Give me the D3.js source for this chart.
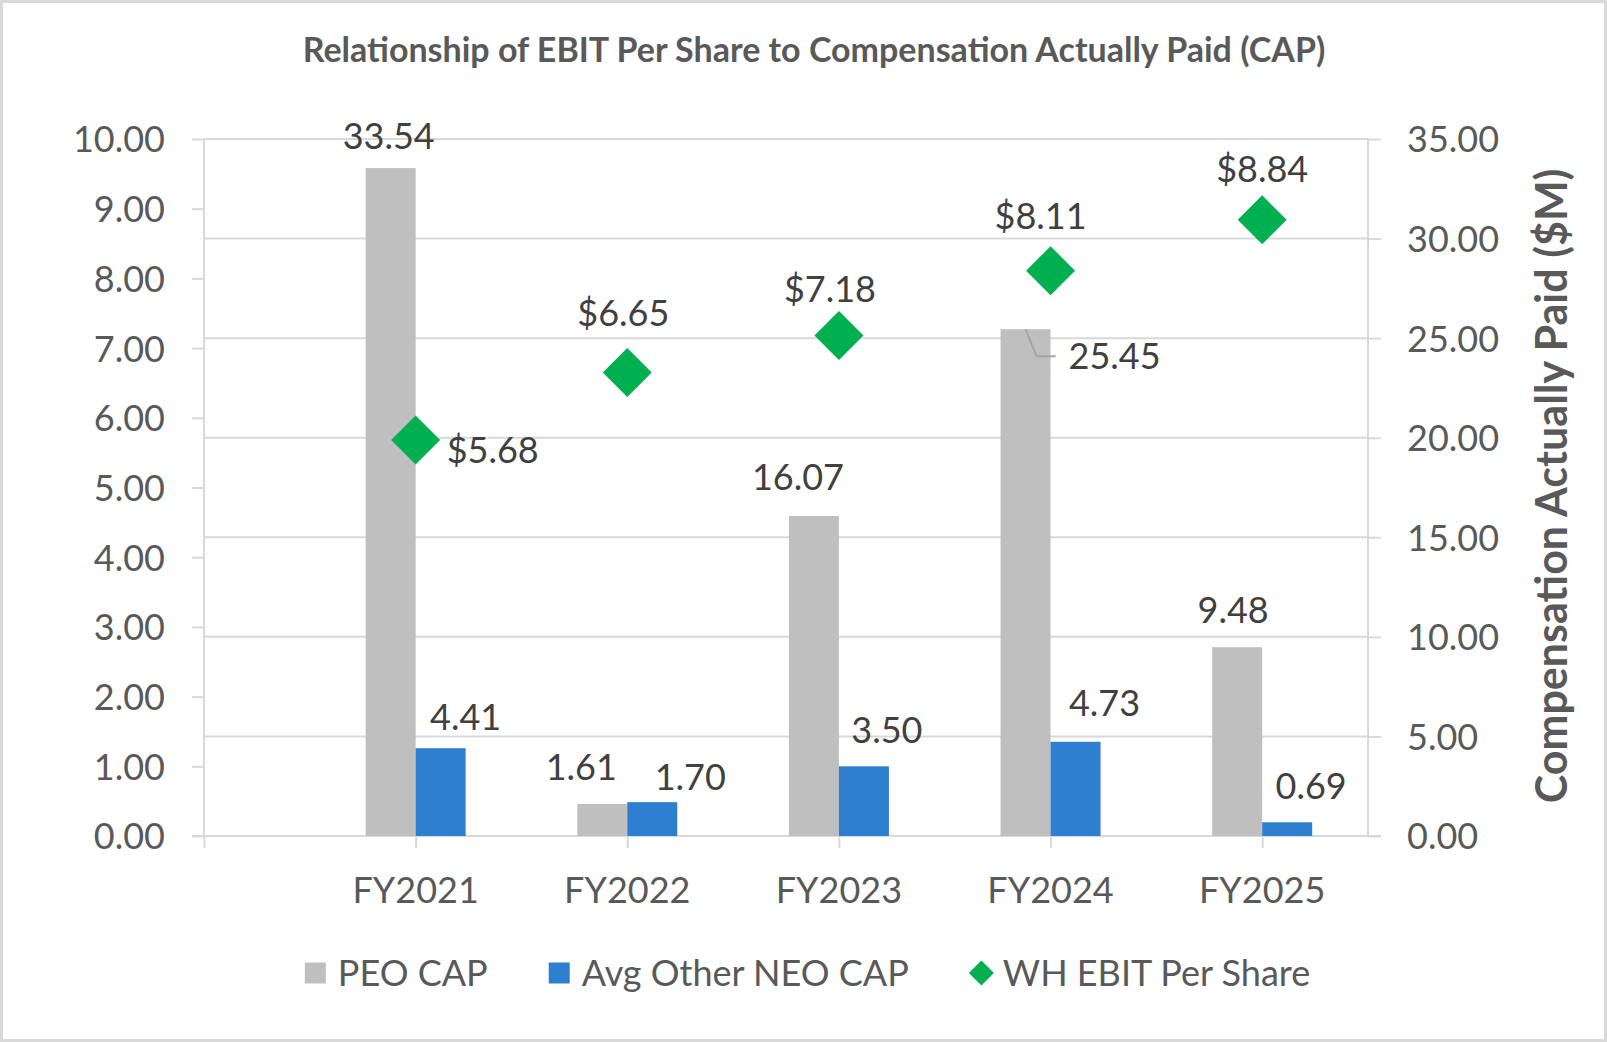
<!DOCTYPE html>
<html>
<head>
<meta charset="utf-8">
<script src="https://cdn.jsdelivr.net/npm/d3@7"></script>
<style>
  html, body { margin: 0; padding: 0; background: #fff; }
  svg { display: block; font-family: Lato, "Open Sans", sans-serif; }
</style>
</head>
<body>
<svg id="chart" width="1607" height="1042"></svg>
<script>
// ---------------- data ----------------
const categories = ["FY2021", "FY2022", "FY2023", "FY2024", "FY2025"];
const peoCap = [33.54, 1.61, 16.07, 25.45, 9.48];      // $M, right axis
const neoCap = [4.41, 1.70, 3.50, 4.73, 0.69];         // $M, right axis
const ebitPerShare = [5.68, 6.65, 7.18, 8.11, 8.84];   // $, left axis
const leftTicks = [0, 1, 2, 3, 4, 5, 6, 7, 8, 9, 10];
const rightTicks = [0, 5, 10, 15, 20, 25, 30, 35];
const seriesNames = ["PEO CAP", "Avg Other NEO CAP", "WH EBIT Per Share"];
const titleText = "Relationship of EBIT Per Share to Compensation Actually Paid (CAP)";
const rightAxisTitle = "Compensation Actually Paid ($M)";

// ---------------- layout / style ----------------
const W = 1607, H = 1042;
const plot = { left: 204, right: 1368, top: 139, bottom: 836 };
const colors = { peo: "#bfbfbf", neo: "#2f7fd1", ebit: "#00b050",
                 grid: "#d9d9d9", tick: "#595959", label: "#404040", leader: "#a6a6a6" };
const barW = 50;
const fontSize = 36;

// label placement offsets (text centre relative to mark anchor)
const peoLabelOff = [[-2, -32], [-21, -37], [-16, -39], [89, 27], [-4, -37]];
const neoLabelOff = [[25, -31], [38, -25], [23, -36], [29, -39], [24, -36]];
const ebitLabelOff = [[77, 10], [-4, -59], [-9, -47], [-10, -55], [0, -51]];

const svg = d3.select("#chart");

// frame
svg.append("rect").attr("x", 1.5).attr("y", 1.5).attr("width", W - 3).attr("height", H - 3)
  .attr("fill", "#fff").attr("stroke", "#d9d9d9").attr("stroke-width", 3);

// scales
const x = d3.scaleLinear().domain([0, categories.length + 0.5]).range([plot.left, plot.right]);
const yL = d3.scaleLinear().domain([0, 10]).range([plot.bottom, plot.top]);
const yR = d3.scaleLinear().domain([0, 35]).range([plot.bottom, plot.top]);
const cx = i => x(i + 1);

// title
svg.append("text").attr("x", 814).attr("y", 62).attr("text-anchor", "middle")
  .attr("font-size", 34).attr("font-weight", 700).attr("fill", "#595959").text(titleText);

// gridlines (right axis)
svg.append("g").selectAll("line").data(rightTicks.slice(1)).join("line")
  .attr("x1", plot.left).attr("x2", plot.right)
  .attr("y1", d => yR(d)).attr("y2", d => yR(d))
  .attr("stroke", colors.grid).attr("stroke-width", 2);

// left axis
const gL = svg.append("g").attr("transform", `translate(${plot.left},0)`)
  .call(d3.axisLeft(yL).tickValues(leftTicks).tickFormat(d3.format(".2f")).tickSize(12).tickPadding(27));
// right axis
const gR = svg.append("g").attr("transform", `translate(${plot.right},0)`)
  .call(d3.axisRight(yR).tickValues(rightTicks).tickFormat(d3.format(".2f")).tickSize(13).tickPadding(26));
[gL, gR].forEach(g => {
  g.select(".domain").attr("stroke", colors.grid).attr("stroke-width", 2)
    .attr("d", `M0,${plot.top}V${plot.bottom}`);
  g.selectAll(".tick line").attr("stroke", colors.grid).attr("stroke-width", 2);
  g.selectAll(".tick text").attr("fill", colors.tick).attr("font-size", fontSize)
    .attr("font-family", "Lato").attr("dy", "0.36em");
});

// bottom axis
const gB = svg.append("g").attr("transform", `translate(0,${plot.bottom})`)
  .call(d3.axisBottom(x).tickValues(d3.range(0, categories.length + 1)).tickSize(12).tickFormat(""));
gB.select(".domain").attr("stroke", colors.grid).attr("stroke-width", 2)
  .attr("d", `M${plot.left - 12},0H${plot.right + 13}`);
gB.selectAll(".tick line").attr("stroke", colors.grid).attr("stroke-width", 2);
svg.append("g").selectAll("text").data(categories).join("text")
  .attr("x", (d, i) => cx(i)).attr("y", 890).attr("dy", "0.36em")
  .attr("text-anchor", "middle").attr("font-size", fontSize).attr("fill", colors.tick).text(d => d);

// bars
svg.append("g").selectAll("rect").data(peoCap).join("rect")
  .attr("x", (d, i) => cx(i) - barW).attr("width", barW)
  .attr("y", d => yR(d)).attr("height", d => yR(0) - yR(d)).attr("fill", colors.peo);
svg.append("g").selectAll("rect").data(neoCap).join("rect")
  .attr("x", (d, i) => cx(i)).attr("width", barW)
  .attr("y", d => yR(d)).attr("height", d => yR(0) - yR(d)).attr("fill", colors.neo);

// diamonds
const diamond = r => `M0,${-r}L${r},0L0,${r}L${-r},0Z`;
svg.append("g").selectAll("path").data(ebitPerShare).join("path")
  .attr("transform", (d, i) => `translate(${cx(i)},${yL(d)})`)
  .attr("d", diamond(24.5)).attr("fill", colors.ebit);

// leader line for FY2024 PEO label
{
  const i = 3, ax = cx(i) - barW / 2, ay = yR(peoCap[i]);
  svg.append("path").attr("d", `M${ax},${ay}L${ax + 11},${ay + 27}H${ax + 30}`)
    .attr("fill", "none").attr("stroke", colors.leader).attr("stroke-width", 2);
}

// data labels
const lbl = svg.append("g").attr("font-size", fontSize).attr("fill", colors.label).attr("text-anchor", "middle");
peoCap.forEach((v, i) => lbl.append("text")
  .attr("x", cx(i) - barW / 2 + peoLabelOff[i][0]).attr("y", yR(v) + peoLabelOff[i][1])
  .attr("dy", "0.36em").text(d3.format(".2f")(v)));
neoCap.forEach((v, i) => lbl.append("text")
  .attr("x", cx(i) + barW / 2 + neoLabelOff[i][0]).attr("y", yR(v) + neoLabelOff[i][1])
  .attr("dy", "0.36em").text(d3.format(".2f")(v)));
ebitPerShare.forEach((v, i) => lbl.append("text")
  .attr("x", cx(i) + ebitLabelOff[i][0]).attr("y", yL(v) + ebitLabelOff[i][1])
  .attr("dy", "0.36em").text("$" + d3.format(".2f")(v)));

// right axis title
svg.append("text").attr("transform", `translate(1552,486) rotate(-90)`)
  .attr("text-anchor", "middle").attr("dy", "0.36em")
  .attr("font-size", 43).attr("font-weight", 700).attr("fill", "#595959").text(rightAxisTitle);

// legend
const leg = svg.append("g");
const legY = 973, sw = 21, gapIn = 12, gapOut = 61;
const items = leg.selectAll("g").data(seriesNames).join("g");
items.each(function (d, i) {
  const g = d3.select(this);
  if (i < 2) {
    g.append("rect").attr("x", 0).attr("y", legY - sw / 2).attr("width", sw).attr("height", sw)
      .attr("fill", i === 0 ? colors.peo : colors.neo);
  } else {
    g.append("path").attr("transform", `translate(${sw / 2 + 1},${legY})`).attr("d", diamond(12.5)).attr("fill", colors.ebit);
  }
  g.append("text").attr("x", sw + gapIn).attr("y", legY).attr("dy", "0.36em")
    .attr("font-size", fontSize).attr("fill", colors.tick).text(d);
});
let cursor = 0;
const widths = [];
items.each(function () { widths.push(this.getBBox().width); });
const total = d3.sum(widths) + gapOut * (widths.length - 1);
cursor = 808 - total / 2;
items.each(function (d, i) {
  d3.select(this).attr("transform", `translate(${cursor},0)`);
  cursor += widths[i] + gapOut;
});
</script>
</body>
</html>
